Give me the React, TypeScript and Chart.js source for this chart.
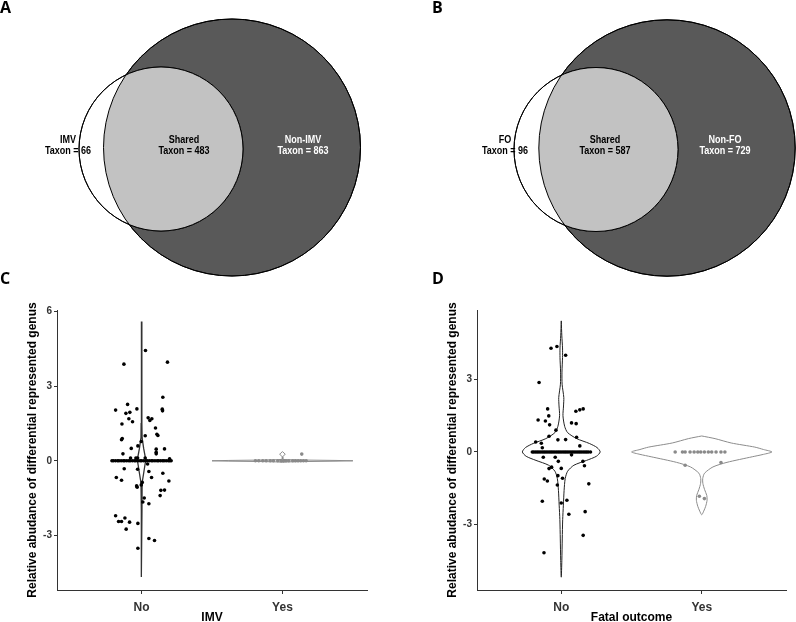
import React, { useEffect, useRef } from "react";
import { Chart, registerables } from "chart.js";

Chart.register(...registerables);

const FONT = "'Liberation Sans', Arial, Helvetica, sans-serif";
Chart.defaults.font.family = FONT;

// ---------- Panel A / B (Venn) data ----------
const imvVennLabels = ["IMV", "Shared", "Non-IMV"];
const imvVennCounts = [66, 483, 863];
const foVennLabels = ["FO", "Shared", "Non-FO"];
const foVennCounts = [96, 587, 729];

// ---------- Panel C / D data ----------
const groupLabels = ["No", "Yes"];
const imvYTicks = [-3, 0, 3, 6];
const foYTicks = [-3, 0, 3];
const yAxisTitle = "Relative abudance of differential represented genus";
const imvAxisTitle = "IMV";
const foAxisTitle = "Fatal outcome";

// IMV = No : jittered points [x, y]
const imvNoPoints = [
  [1.028, 4.44], [0.875, 3.89], [1.184, 3.97], [0.816, 2.04], [0.901, 2.27], [0.889, 1.91],
  [0.917, 1.95], [0.967, 2.09], [1.151, 2.56], [1.147, 2.08], [1.149, 2.01], [0.861, 1.48],
  [0.91, 1.69], [0.936, 1.57], [1.047, 1.73], [1.059, 1.62], [1.073, 1.69], [1.099, 1.32],
  [1.109, 1.07], [1.116, 1.02], [1.026, 1.01], [0.863, 0.9], [0.858, 0.85], [0.927, 0.5],
  [0.974, 0.6], [0.998, 0.78], [0.868, 0.28], [1.163, 0.48], [1.104, 0.47], [1.104, 0.34],
  [1.104, 0.28], [0.922, 0.11], [0.96, 0.11], [0.972, 0.11], [1.026, 0.11], [1.199, 0.08],
  [0.821, -0.67], [0.858, -0.78], [0.877, -0.32], [0.972, -0.34], [1.052, -0.43], [1.071, -0.67],
  [1.043, -0.13], [1.151, -0.5], [1.194, -0.81], [1.005, -0.87], [0.998, -0.97], [0.965, -1.01],
  [0.969, -1.06], [1.137, -1.19], [1.163, -1.18], [1.132, -1.4], [1.019, -1.5], [1.009, -1.66],
  [1.052, -1.73], [0.816, -2.21], [0.837, -2.44], [0.858, -2.44], [0.882, -2.3], [0.915, -2.47],
  [0.891, -2.75], [0.974, -2.52], [1.052, -3.13], [1.092, -3.21], [0.974, -3.52],
];
// IMV = No : points sitting on zero
const imvNoZeroX = [
  0.79, 0.8, 0.815, 0.83, 0.84, 0.855, 0.87, 0.88, 0.895, 0.91, 0.92, 0.935, 0.95, 0.96, 0.975,
  0.99, 1.0, 1.015, 1.03, 1.04, 1.055, 1.07, 1.08, 1.095, 1.11, 1.12, 1.135, 1.15, 1.16, 1.175,
  1.19, 1.2, 1.21,
];
// IMV = Yes : points
const imvYesPoints = [[2.137, 0.27]];
const imvYesZeroX = [
  1.808, 1.832, 1.86, 1.884, 1.913, 1.936, 1.967, 1.99, 2.007, 2.026, 2.045, 2.073, 2.092,
  2.111, 2.13, 2.149, 2.168,
];

// Fatal outcome = No : jittered points
const foNoPoints = [
  [0.927, 4.29], [0.969, 4.36], [1.031, 4.0], [0.842, 2.87], [0.903, 1.78], [0.835, 1.32],
  [0.911, 1.49], [0.887, 1.28], [0.917, 1.12], [1.073, 1.2], [1.106, 1.17], [1.104, 1.68],
  [1.132, 1.74], [1.156, 1.78], [0.962, 0.9], [0.913, 0.65], [0.976, 0.5], [1.031, 0.51],
  [1.109, 0.61], [0.818, 0.41], [0.858, 0.36], [0.865, 0.17], [1.132, 0.25], [0.872, -0.22],
  [0.957, -0.22], [0.979, -0.39], [1.073, -0.12], [1.0, -0.68], [0.931, -0.63], [0.913, -0.69],
  [1.154, -0.39], [1.165, -0.57], [0.976, -0.98], [1.009, -1.09], [0.879, -1.12], [0.901, -1.2],
  [0.972, -1.37], [1.196, -1.32], [0.865, -2.04], [1.0, -2.11], [1.04, -2.0], [1.17, -2.47],
  [1.054, -2.58], [1.156, -3.45], [0.877, -4.17],
];
const foNoZeroX = [
  0.794, 0.805, 0.818, 0.83, 0.842, 0.855, 0.868, 0.88, 0.892, 0.905, 0.918, 0.93, 0.942, 0.955,
  0.968, 0.98, 0.992, 1.005, 1.018, 1.03, 1.042, 1.055, 1.068, 1.08, 1.092, 1.105, 1.118, 1.13,
  1.142, 1.155, 1.168, 1.18, 1.192, 1.208,
];
// Fatal outcome = Yes : points
const foYesPoints = [[1.882, -0.55], [2.137, -0.44], [1.983, -1.83], [2.019, -1.93]];
const foYesZeroX = [
  1.811, 1.863, 1.882, 1.917, 1.946, 1.972, 1.993, 2.019, 2.047, 2.071, 2.102, 2.137, 2.165,
];

// Violin outlines: y levels and half-widths
const imvNoViolinY = [5.61, 3.0, 1.5, 0.93, 0.5, 0.04, -0.5, -0.89, -2.0, -4.68];
const imvNoViolinW = [0, 0.0015, 0.003, 0.004, 0.015, 0.03, 0.015, 0.004, 0.003, 0];
const imvYesViolinY = [0.37, 0.31, 0.26, 0.21, 0.16, 0.06, 0.045, 0.03, 0.015, 0, -0.015, -0.03, -0.045, -0.06];
const imvYesViolinW = [0, 0.012, 0.02, 0.008, 0.002, 0.002, 0.03, 0.15, 0.38, 0.5, 0.38, 0.15, 0.03, 0];
const foNoViolinY = [5.42, 4.8, 4.3, 3.9, 3.3, 2.8, 2.25, 1.9, 1.5, 1.06, 0.8, 0.55, 0.35, 0.18, 0, -0.18, -0.35, -0.55, -0.8, -1.1, -1.6, -2.2, -2.8, -3.6, -4.5, -5.18];
const foNoViolinW = [0, 0.004, 0.009, 0.009, 0.005, 0.006, 0.018, 0.016, 0.012, 0.024, 0.045, 0.11, 0.2, 0.255, 0.277, 0.25, 0.18, 0.09, 0.045, 0.028, 0.02, 0.015, 0.01, 0.007, 0.004, 0];
const foYesViolinY = [0.66, 0.55, 0.37, 0.2, 0.1, 0, -0.1, -0.2, -0.43, -0.62, -0.88, -1.1, -1.3, -1.55, -1.8, -2.0, -2.25, -2.45, -2.6];
const foYesViolinW = [0, 0.095, 0.21, 0.378, 0.44, 0.5, 0.44, 0.36, 0.18, 0.08, 0.02, 0.007, 0.008, 0.02, 0.036, 0.038, 0.028, 0.014, 0];

// ---------- layout (positions / sizes, kept apart from data) ----------
const vennLayoutA = {
  small: { x: 161, y: 149, r: 82 },
  big: { x: 232, y: 147.5, r: 128.5 },
  text: [[68, 139.5], [184, 139.5], [303, 139.5]],
};
const vennLayoutB = {
  small: { x: 198, y: 149.5, r: 82 },
  big: { x: 269, y: 148, r: 128.2 },
  text: [[107, 139.5], [207, 139.5], [327, 139.5]],
};

const DARK = "#595959";
const LENS = "#c2c2c2";

function vennConfig(labels: string[], counts: number[], layout: any): any {
  const plugin = {
    id: "vennLens",
    afterDatasetsDraw(chart: any) {
      const ctx = chart.ctx;
      const small = chart.getDatasetMeta(0).data[0];
      const big = chart.getDatasetMeta(1).data[0];
      const rs = small.options.radius;
      const rb = big.options.radius;
      ctx.save();
      ctx.beginPath();
      ctx.arc(big.x, big.y, rb, 0, Math.PI * 2);
      ctx.clip();
      ctx.beginPath();
      ctx.arc(small.x, small.y, rs, 0, Math.PI * 2);
      ctx.fillStyle = LENS;
      ctx.fill();
      ctx.restore();
      ctx.save();
      ctx.lineWidth = 1;
      ctx.strokeStyle = "#000";
      ctx.beginPath();
      ctx.arc(big.x, big.y, rb, 0, Math.PI * 2);
      ctx.stroke();
      ctx.beginPath();
      ctx.arc(small.x, small.y, rs, 0, Math.PI * 2);
      ctx.stroke();
      ctx.restore();
      // labels
      const xs = chart.scales.x;
      const ys = chart.scales.y;
      const colors = ["#000", "#000", "#fff"];
      labels.forEach((lab, i) => {
        const px = xs.getPixelForValue(layout.text[i][0]);
        const py = ys.getPixelForValue(layout.text[i][1]);
        ctx.save();
        ctx.translate(px, py);
        ctx.scale(0.82, 1);
        ctx.font = `bold 11px ${FONT}`;
        ctx.textAlign = "center";
        ctx.textBaseline = "middle";
        ctx.fillStyle = colors[i];
        ctx.fillText(lab, 0, 0);
        ctx.fillText(`Taxon = ${counts[i]}`, 0, 11.5);
        ctx.restore();
      });
    },
  };
  return {
    type: "bubble",
    data: {
      datasets: [
        {
          label: labels[0],
          data: [{ x: layout.small.x, y: layout.small.y, r: layout.small.r }],
          backgroundColor: "#ffffff",
          borderColor: "#000",
          borderWidth: 1,
          clip: false,
        },
        {
          label: labels[2],
          data: [{ x: layout.big.x, y: layout.big.y, r: layout.big.r }],
          backgroundColor: DARK,
          borderColor: "#000",
          borderWidth: 1,
          clip: false,
        },
      ],
    },
    options: {
      responsive: false,
      animation: false,
      devicePixelRatio: 1,
      events: [],
      layout: { padding: 0, autoPadding: false },
      plugins: { legend: { display: false }, tooltip: { enabled: false } },
      scales: {
        x: { type: "linear", min: 0, max: 398, display: false },
        y: { type: "linear", min: 0, max: 300, reverse: true, display: false },
      },
    },
    plugins: [plugin],
  };
}

function violinPath(center: number, ys: number[], ws: number[]) {
  const right = ys.map((y, i) => ({ x: center + ws[i], y }));
  const left = ys.map((y, i) => ({ x: center - ws[i], y })).reverse();
  return [...right, ...left.slice(1)];
}

function pointsOf(pairs: number[][], zeroX: number[]) {
  return [...zeroX.map((x) => ({ x, y: 0 })), ...pairs.map(([x, y]) => ({ x, y }))];
}

function violinConfig(o: any): any {
  return {
    type: "scatter",
    data: {
      datasets: [
        {
          data: o.pts0,
          pointRadius: 1.8,
          pointBackgroundColor: "#000",
          pointBorderWidth: 0,
          showLine: false,
          order: 0,
        },
        {
          data: o.pts1,
          pointRadius: 1.8,
          pointBackgroundColor: "#8a8a8a",
          pointBorderWidth: 0,
          showLine: false,
          order: 0,
        },
        {
          data: o.violin0,
          showLine: true,
          pointRadius: 0,
          borderColor: o.v0Color,
          borderWidth: o.v0Width,
          fill: false,
          tension: o.tension,
          order: 1,
        },
        {
          data: o.violin1,
          showLine: true,
          pointRadius: 0,
          borderColor: "#8c8c8c",
          borderWidth: 1,
          fill: false,
          tension: o.tension,
          order: 1,
        },
      ],
    },
    options: {
      responsive: false,
      animation: false,
      devicePixelRatio: 1,
      events: [],
      layout: { padding: { top: 10, right: o.padRight, left: 0, bottom: 0 }, autoPadding: false },
      plugins: { legend: { display: false }, tooltip: { enabled: false } },
      scales: {
        x: {
          type: "linear",
          min: 0.4,
          max: 2.6,
          afterBuildTicks: (s: any) => {
            s.ticks = groupLabels.map((_, i) => ({ value: i + 1 }));
          },
          afterFit: (s: any) => {
            s.height = 50;
          },
          ticks: {
            callback: (v: any) => groupLabels[Math.round(v) - 1] ?? "",
            font: { size: 12, weight: "bold" },
            color: "#333",
            padding: 6,
            autoSkip: false,
            maxRotation: 0,
          },
          grid: { display: true, drawOnChartArea: false, drawTicks: true, tickLength: 4, color: "#333" },
          border: { display: true, color: "#333", width: 1 },
          title: {
            display: true,
            text: o.xTitle,
            font: { size: 12, weight: "bold" },
            color: "#000",
            padding: { top: 0, bottom: 15.5 },
          },
        },
        y: {
          type: "linear",
          min: o.yMin,
          max: o.yMax,
          afterBuildTicks: (s: any) => {
            s.ticks = o.yTicks.map((v: number) => ({ value: v }));
          },
          afterFit: (s: any) => {
            s.width = o.yWidth;
          },
          ticks: {
            callback: (v: any) => String(v),
            font: { size: 10, weight: "bold" },
            color: "#333",
            padding: 2,
          },
          grid: { display: true, drawOnChartArea: false, drawTicks: true, tickLength: 3, color: "#333" },
          border: { display: true, color: "#333", width: 1 },
          title: {
            display: true,
            text: yAxisTitle,
            font: { size: 12, weight: "bold" },
            color: "#000",
            padding: { top: o.yTitlePad, bottom: 0 },
          },
        },
      },
    },
  };
}

function ChartCanvas({ make, left, top, width, height }: any) {
  const ref = useRef<HTMLCanvasElement>(null);
  useEffect(() => {
    const chart = new Chart(ref.current as HTMLCanvasElement, make());
    return () => chart.destroy();
  }, []);
  return (
    <canvas
      ref={ref}
      width={width}
      height={height}
      style={{ position: "absolute", left, top, width, height }}
    />
  );
}

const letterStyle: any = {
  position: "absolute",
  fontFamily: "'Open Sans', 'Noto Sans', sans-serif",
  fontWeight: 700,
  fontSize: 16,
  lineHeight: "16px",
  color: "#000",
};

export default function App() {
  return (
    <div
      style={{
        position: "fixed",
        left: 0,
        top: 0,
        width: 796,
        height: 622,
        overflow: "hidden",
        background: "#fff",
      }}
    >
      <ChartCanvas
        left={0}
        top={0}
        width={398}
        height={300}
        make={() => vennConfig(imvVennLabels, imvVennCounts, vennLayoutA)}
      />
      <ChartCanvas
        left={398}
        top={0}
        width={398}
        height={300}
        make={() => vennConfig(foVennLabels, foVennCounts, vennLayoutB)}
      />
      <ChartCanvas
        left={0}
        top={300}
        width={398}
        height={340}
        make={() =>
          violinConfig({
            pts0: pointsOf(imvNoPoints, imvNoZeroX),
            pts1: pointsOf(imvYesPoints, imvYesZeroX),
            violin0: violinPath(1, imvNoViolinY, imvNoViolinW),
            violin1: violinPath(2, imvYesViolinY, imvYesViolinW),
            v0Color: "#333",
            v0Width: 1.3,
            tension: 0,
            yMin: -5.2,
            yMax: 6.07,
            yTicks: imvYTicks,
            xTitle: imvAxisTitle,
            yWidth: 57,
            yTitlePad: 25.3,
            padRight: 31,
          })
        }
      />
      <ChartCanvas
        left={398}
        top={300}
        width={398}
        height={340}
        make={() =>
          violinConfig({
            pts0: pointsOf(foNoPoints, foNoZeroX),
            pts1: pointsOf(foYesPoints, foYesZeroX),
            violin0: violinPath(1, foNoViolinY, foNoViolinW),
            violin1: violinPath(2, foYesViolinY, foYesViolinW),
            v0Color: "#222",
            v0Width: 1,
            tension: 0.25,
            yMin: -5.71,
            yMax: 5.87,
            yTicks: foYTicks,
            xTitle: foAxisTitle,
            yWidth: 79,
            yTitlePad: 47.5,
            padRight: 10,
          })
        }
      />
      <div style={{ ...letterStyle, left: 0, top: -1 }}>A</div>
      <div style={{ ...letterStyle, left: 432, top: -1 }}>B</div>
      <div style={{ ...letterStyle, left: 0, top: 270 }}>C</div>
      <div style={{ ...letterStyle, left: 432, top: 270 }}>D</div>
    </div>
  );
}
